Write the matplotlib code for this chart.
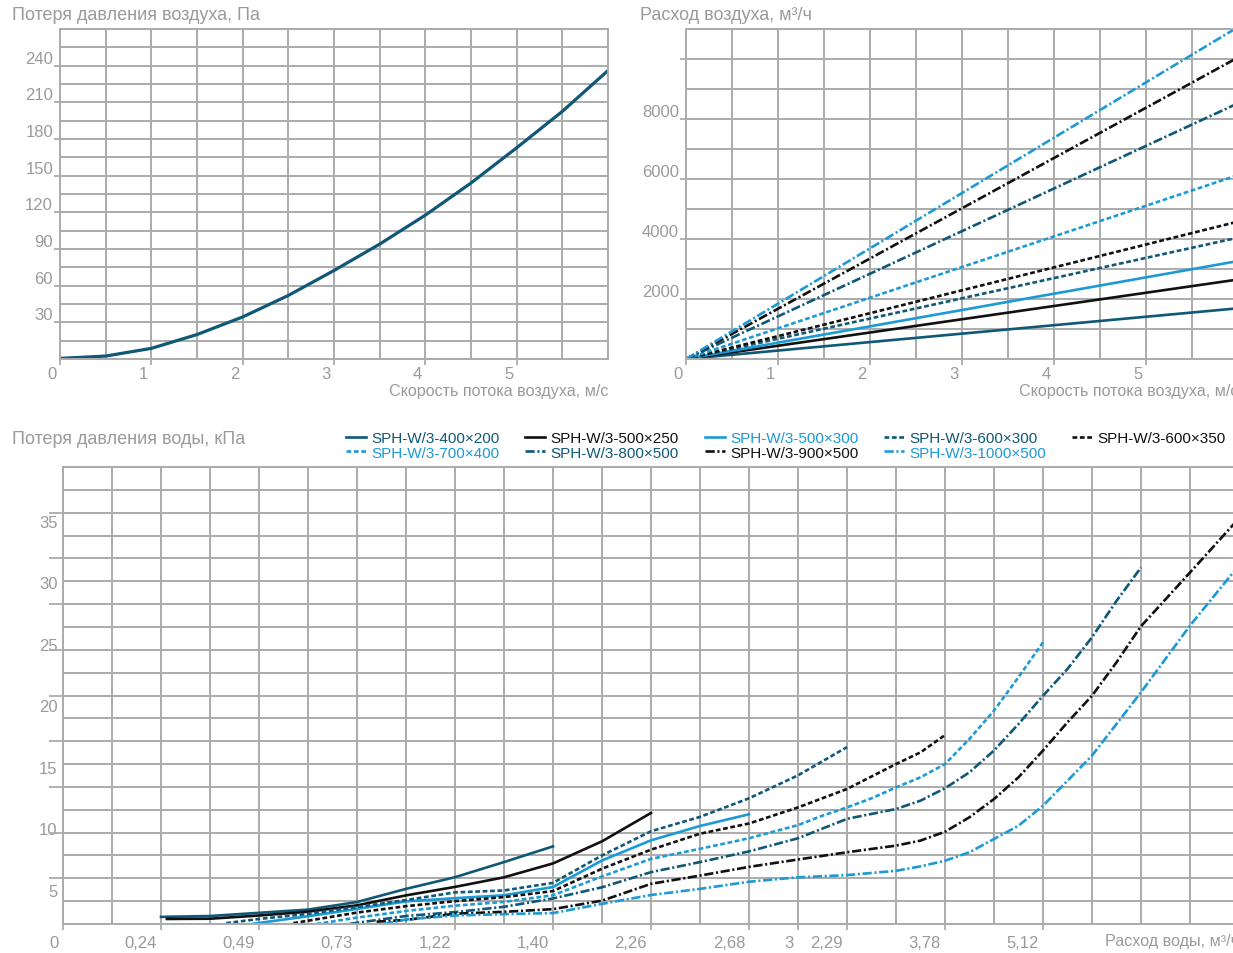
import numpy as np
import matplotlib
matplotlib.use('Agg')
import matplotlib.pyplot as plt
from matplotlib.transforms import ScaledTranslation

plt.rcParams['font.family'] = ['Liberation Sans', 'DejaVu Sans']

W, H = 1233, 954
GRID = '#ababab'
TEXT = '#9a9a9a'
DARK = '#0f5877'
LIGHT = '#1b9ad6'
BLACK = '#111111'

# air side: pressure loss vs face velocity
velocity = [0, 0.5, 1, 1.5, 2, 2.5, 3, 3.5, 4, 4.5, 5, 5.5, 6]
air_loss = [0.5, 2.4, 8.7, 20, 34.4, 52, 72.4, 94, 117.7, 144, 172.8, 202.6, 236]

# unit sizes, line looks
models = ['SPH-W/3-400×200', 'SPH-W/3-500×250', 'SPH-W/3-500×300',
          'SPH-W/3-600×300', 'SPH-W/3-600×350', 'SPH-W/3-700×400',
          'SPH-W/3-800×500', 'SPH-W/3-900×500', 'SPH-W/3-1000×500']
colors = [DARK, BLACK, LIGHT, DARK, BLACK, LIGHT, DARK, BLACK, LIGHT]
DASH = (0, (1.8, 1.0))
DASHDOT = (0, (3.5, 1.0, 0.8, 1.0))
styles = ['-', '-', '-', DASH, DASH, DASH, DASHDOT, DASHDOT, DASHDOT]

# air flow, m3/h, at 0 and 6 m/s
flow_velocity = [0, 6]
flow_400x200 = [0, 1690]
flow_500x250 = [0, 2650]
flow_500x300 = [0, 3265]
flow_600x300 = [0, 4045]
flow_600x350 = [0, 4580]
flow_700x400 = [0, 6130]
flow_800x500 = [0, 8525]
flow_900x500 = [0, 10050]
flow_1000x500 = [0, 11065]

# water side: position along the flow axis, pressure loss in kPa
pos_400x200 = [2, 3, 4, 5, 6, 7, 8, 9, 10]
dp_400x200 = [2.78, 2.85, 3.11, 3.37, 3.99, 5.06, 6.01, 7.24, 8.52]
pos_500x250 = [2.12, 3, 4, 5, 6, 7, 8, 9, 10, 11, 12]
dp_500x250 = [2.61, 2.63, 2.89, 3.2, 3.72, 4.53, 5.22, 6.0, 7.13, 8.93, 11.24]
pos_500x300 = [3.88, 5, 6, 7, 8, 9, 10, 11, 12, 13, 14]
dp_500x300 = [2.22, 2.83, 3.43, 4.04, 4.3, 4.54, 5.21, 7.37, 9.01, 10.18, 11.13]
pos_600x300 = [3.33, 4, 5, 6, 7, 8, 9, 10, 11, 12, 13, 14, 15, 16]
dp_600x300 = [2.27, 2.61, 3.02, 3.58, 4.15, 4.77, 4.93, 5.55, 7.78, 9.75,
              10.92, 12.43, 14.3, 16.6]
pos_600x350 = [4.7, 6, 7, 8, 9, 10, 11, 12, 13, 14, 15, 16, 17, 17.5, 18]
dp_600x350 = [2.27, 3.13, 3.65, 4.06, 4.39, 4.88, 6.7, 8.25, 9.55, 10.38,
              11.69, 13.19, 15.22, 16.17, 17.58]
pos_700x400 = [5.17, 6, 7, 8, 9, 10, 11, 12, 13, 14, 15, 15.5, 16, 16.5, 17,
               17.5, 18, 18.5, 19, 19.5, 20]
dp_700x400 = [2.2, 2.72, 3.26, 3.69, 4.0, 4.54, 6.07, 7.5, 8.32, 9.18, 10.25,
              11.02, 11.69, 12.43, 13.32, 14.14, 15.22, 17.27, 19.57, 22.29,
              25.13]
pos_800x500 = [5.86, 7, 8, 9, 10, 11, 12, 13, 14, 15, 16, 17, 17.5, 18, 18.5,
               19, 19.5, 20, 20.5, 21, 21.5, 22]
dp_800x500 = [2.22, 2.85, 3.17, 3.6, 4.28, 5.19, 6.42, 7.24, 8.11, 9.18, 10.76,
              11.56, 12.24, 13.25, 14.55, 16.32, 18.48, 20.78, 22.96, 25.54,
              28.5, 31.22]
pos_900x500 = [6.4, 7, 8, 9, 10, 11, 12, 13, 14, 15, 16, 17, 17.5, 18, 18.5,
               19, 19.5, 20, 20.5, 21, 21.5, 22, 23, 24]
dp_900x500 = [2.39, 2.53, 3.04, 3.19, 3.41, 4.1, 5.47, 6.14, 6.85, 7.45, 8.04,
              8.58, 8.99, 9.71, 10.89, 12.37, 14.14, 16.32, 18.62, 20.78,
              23.5, 26.44, 30.81, 35.22]
pos_1000x500 = [6.55, 7, 8, 9, 10, 11, 12, 13, 14, 15, 16, 17, 17.5, 18, 18.5,
                19, 19.5, 20, 20.5, 21, 21.5, 22, 22.5, 23, 24]
dp_1000x500 = [2.2, 2.57, 2.89, 3.0, 3.09, 3.84, 4.56, 5.06, 5.64, 6.0, 6.18,
               6.53, 6.89, 7.35, 8.04, 9.12, 10.2, 11.83, 13.86, 15.91, 18.48,
               21.06, 23.78, 26.49, 31.4]

water_ticks = [0, 2, 4, 6, 8, 10, 12, 14, 15, 16, 18, 20]
water_labels = ['0', '0,24', '0,49', '0,73', '1,22', '1,40', '2,26', '2,68',
                '3', '2,29', '3,78', '5,12']
dp_labels = [5, 10, 15, 20, 25, 30, 35]

flows = [flow_400x200, flow_500x250, flow_500x300, flow_600x300, flow_600x350,
         flow_700x400, flow_800x500, flow_900x500, flow_1000x500]
positions = [pos_400x200, pos_500x250, pos_500x300, pos_600x300, pos_600x350,
             pos_700x400, pos_800x500, pos_900x500, pos_1000x500]
losses = [dp_400x200, dp_500x250, dp_500x300, dp_600x300, dp_600x350,
          dp_700x400, dp_800x500, dp_900x500, dp_1000x500]

fig = plt.figure(figsize=(W / 100, H / 100), dpi=100)


def px_axes(l, t, r, b):
    return fig.add_axes([l / W, 1 - b / H, (r - l) / W, (b - t) / H])


def style(ax):
    for s in ax.spines.values():
        s.set_color(GRID)
        s.set_linewidth(1.4)
    ax.grid(which='both', color=GRID, lw=1.4)
    ax.set_axisbelow(True)
    ax.tick_params(which='both', colors=GRID, labelcolor=TEXT, labelsize=12,
                   width=1.3, length=4, pad=1)
    ax.tick_params(which='minor', length=0)


def shift(labels, dx, dy):
    for t in labels:
        t.set_transform(t.get_transform() +
                        ScaledTranslation(dx / 100, dy / 100, fig.dpi_scale_trans))


# ── air pressure loss ────────────────────────────────────────────────
ax1 = px_axes(60, 30, 608, 360)
style(ax1)
ax1.plot(velocity, air_loss, color=DARK, lw=2.3)
ax1.set_xlim(0, 6)
ax1.set_ylim(0, 270)
ax1.set_xticks(range(6))
ax1.set_xticks(np.arange(0, 6.01, 0.5), minor=True)
ax1.set_yticks(range(30, 241, 30))
ax1.set_yticks(np.arange(0, 271, 15), minor=True)
ax1.set_xlabel('Скорость потока воздуха, м/с', color=TEXT, fontsize=11.6,
               loc='right', va='center')
ax1.xaxis.set_label_coords(1.0, -0.094)

# ── air flow ─────────────────────────────────────────────────────────
ax2 = px_axes(686, 30, 1238, 360)
style(ax2)
for f, c, ls in zip(flows, colors, styles):
    ax2.plot(flow_velocity, f, color=c, ls=ls, lw=1.9)
ax2.set_xlim(0, 6)
ax2.set_ylim(0, 11000)
ax2.set_xticks(range(6))
ax2.set_xticks(np.arange(0, 6.01, 0.5), minor=True)
ax2.set_yticks(range(2000, 10001, 2000))
ax2.set_yticklabels(['2000', '4000', '6000', '8000', ''])
ax2.set_yticks(range(0, 11001, 1000), minor=True)
ax2.set_xlabel('Скорость потока воздуха, м/с', color=TEXT, fontsize=11.6,
               loc='right', va='center')
ax2.xaxis.set_label_coords(1.0, -0.094)

for ax in (ax1, ax2):
    for t in ax.get_yticklabels():
        t.set_verticalalignment('bottom')
    for t in ax.get_xticklabels():
        t.set_horizontalalignment('right')
    shift(ax.get_xticklabels(), -3, 0)

# ── water pressure loss ──────────────────────────────────────────────
ax3 = px_axes(63, 468, 1239, 925)
style(ax3)
Y0, STEP = 2.2, 1.86
lines = []
for x, y, c, ls in zip(positions, losses, colors, styles):
    ln, = ax3.plot(x, y, color=c, ls=ls, lw=1.9)
    lines.append(ln)
ax3.set_xlim(0, 24)
ax3.set_ylim(Y0, Y0 + 20 * STEP)
ax3.set_xticks(water_ticks)
ax3.set_xticklabels(water_labels)
ax3.set_xticks(range(25), minor=True)
ax3.set_yticks(dp_labels)
ax3.set_yticks(Y0 + STEP * np.arange(21), minor=True)
ax3.grid(which='major', axis='y', visible=False)
ax3.tick_params(axis='y', which='major', length=0, pad=4)
ax3.tick_params(axis='x', which='major', pad=4)
for t in ax3.get_xticklabels():
    t.set_horizontalalignment('right')
shift(ax3.get_xticklabels(), -4, 0)
# short marks on every second grid row
ax3.hlines(Y0 + STEP * np.arange(2, 19, 2), -0.012, 0,
           transform=ax3.get_yaxis_transform(), colors=GRID, lw=1.3,
           clip_on=False)
ax3.set_xlabel('Расход воды, м³/ч', color=TEXT, fontsize=11.6, loc='right',
               va='center')
ax3.xaxis.set_label_coords(1.0, -0.037)

# titles
fig.text(12 / W, 1 - 15 / H, 'Потеря давления воздуха, Па', color=TEXT,
         fontsize=13, va='center')
fig.text(640 / W, 1 - 15 / H, 'Расход воздуха, м³/ч', color=TEXT,
         fontsize=13, va='center')
fig.text(12 / W, 1 - 440 / H, 'Потеря давления воды, кПа', color=TEXT,
         fontsize=13, va='center')

# legend: two rows, five columns
order = [0, 5, 1, 6, 2, 7, 3, 8, 4]
fig.legend([lines[i] for i in order], [models[i] for i in order],
           loc='upper left', bbox_to_anchor=(346 / W, 1 - 432 / H), ncol=5,
           frameon=False, fontsize=11, handlelength=1.3, handletextpad=0.35,
           columnspacing=1.7, labelspacing=0.05, borderpad=0,
           borderaxespad=0, labelcolor='linecolor')

fig.savefig('out.png', dpi=100)
